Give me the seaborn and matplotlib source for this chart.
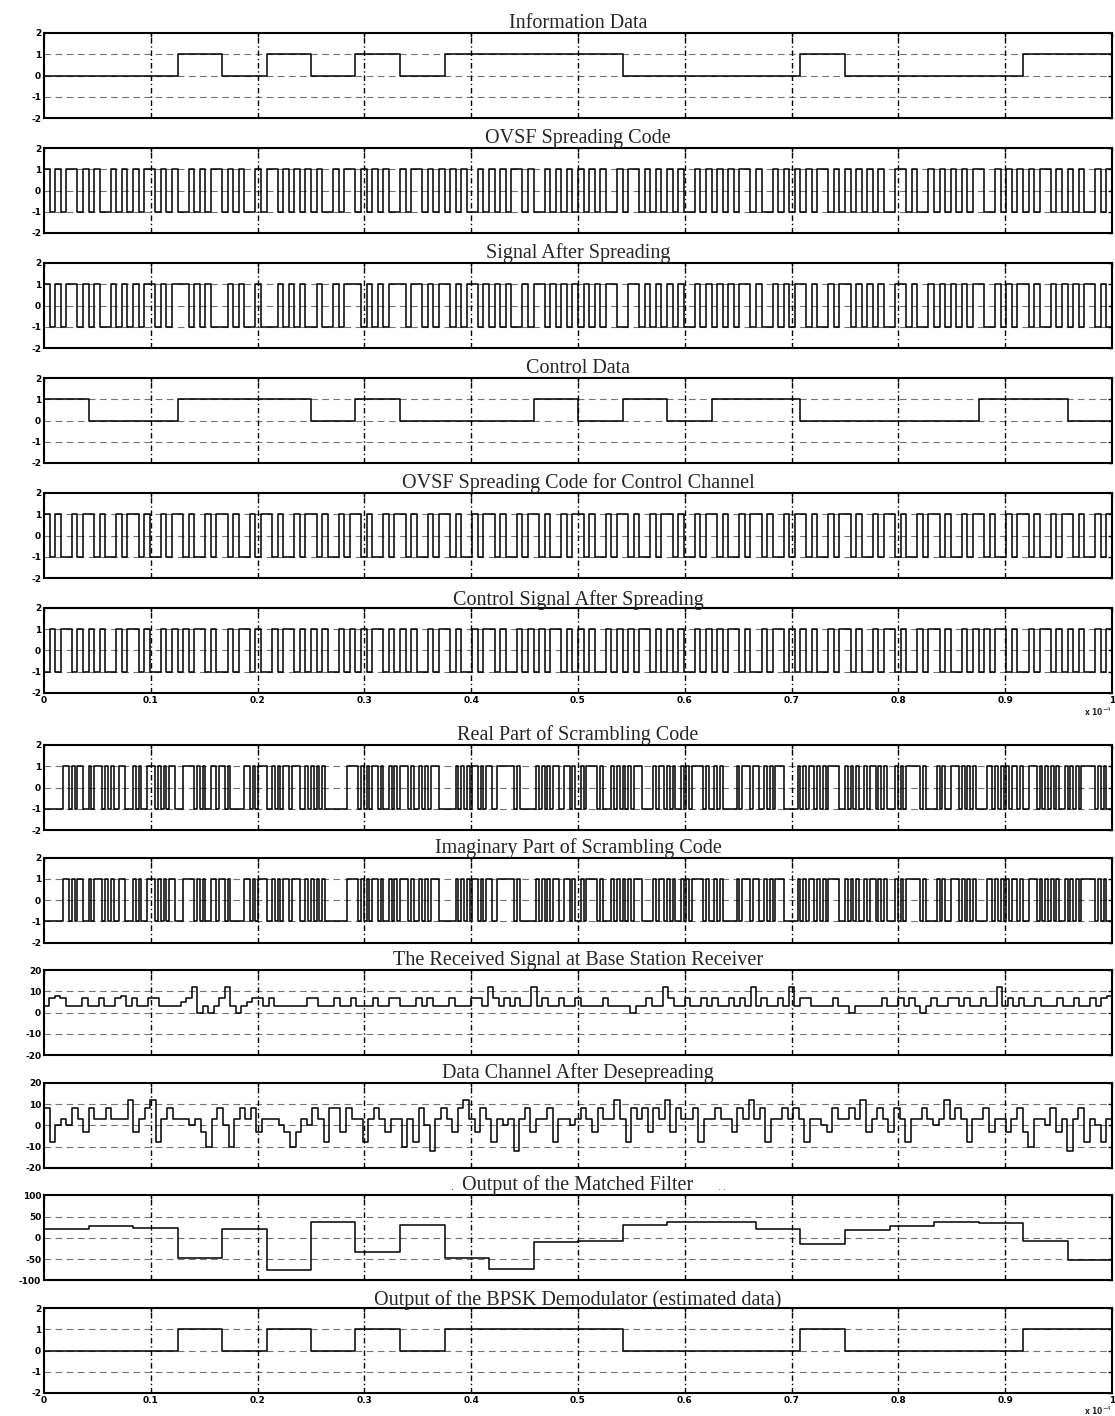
import numpy as np
import matplotlib
matplotlib.use("Agg")
import matplotlib.pyplot as plt
import seaborn as sns

# ---- data ----
info_bits = [0, 0, 0, 1, 0, 1, 0, 1, 0, 1, 1, 1, 1, 0, 0, 0, 0, 1, 0, 0, 0, 0, 1, 1]
control_bits = [1, 0, 0, 1, 1, 1, 0, 1, 0, 0, 0, 1, 0, 1, 0, 1, 1, 0, 0, 0, 0, 1, 1, 0]
estimated_bits = [0, 0, 0, 1, 0, 1, 0, 1, 0, 1, 1, 1, 1, 0, 0, 0, 0, 1, 0, 0, 0, 0, 1, 1]

ovsf_data = (
    "+-+-++-+ -+--+-+- +-++-+-+ --+-+-++ -+-+--+- ++-+-+-+ -+--+-++ -+-+-+-- "
    "+-++-+-+ -+-+--+- +-+-++-+ --+-+-+- +-+-+--+ -++-+-+- +-+--+-+ -+-+-++- "
    "+--+-+-+ -+-++-+- +-+-+-+- -++-+--+ -+-+-+-+ +--+-+-+ -+-++-+- +-+--+-+"
)
spread_data = (
    "+-+-++-+ -+--+-+- +-++-+-+ ++-+-+-- -+-+--+- --+-+-+- -+--+-++ +-+-+-++ "
    "+-++-+-+ +-+-++-+ -+-+--+- ++-+-+-+ -+-+-++- -++-+-+- +-+--+-+ -+-+-++- "
    "+--+-+-+ +-+--+-+ +-+-+-+- -++-+--+ -+-+-+-+ +--+-+-+ +-+--+-+ -+-++-+-"
)
ovsf_ctrl = (
    "+-+--+-+ +-+--+-+ +-+--+-+ +-+--+-+ +-+--+-+ +-+--+-+ +-+--+-+ +-+--+-+ "
    "+-+--+-+ +-+--+-+ +-+--+-+ +-+--+-+ +-+--+-+ +-+--+-+ +-+--+-+ +-+--+-+ "
    "+-+--+-+ +-+--+-+ +-+--+-+ +-+--+-+ +-+--+-+ +-+--+-+ +-+--+-+ +-+--+-+"
)
spread_ctrl = (
    "-+-++-+- +-+--+-+ +-+--+-+ -+-++-+- -+-++-+- -+-++-+- +-+--+-+ -+-++-+- "
    "+-+--+-+ +-+--+-+ +-+--+-+ -+-++-+- +-+--+-+ -+-++-+- +-+--+-+ -+-++-+- "
    "-+-++-+- +-+--+-+ +-+--+-+ +-+--+-+ +-+--+-+ -+-++-+- -+-++-+- +-+--+-+"
)
scr_real = (
    "-------+ +-+-++-- +-+++-+- +--++--- +-+--+++ -+-+-++- --++++-+ -+--++-+ "
    "+-+----- ++-+-+++ --+-+-++ -+++--+- +-+-+--- -----+++ +-+-+-++ -+--+-+- "
    "+++-+--+ -+-+++-- ----+-+- +-++-+-+ +--+++++ +-+----- -+-+-+-+ +--++-+- "
    "-+-++++- +---+-+- +-+-+++- ---+-++- +-+--+-+ -++++-+- -+-+---- -+-+++-+ "
    "+--+-+-+ ++-----+ -+-++-+- +-++++-- +-+-+--+ -++-+-+- --+-+-++ +++-+--- "
    "-+-+--++ +-+-+-+- ---++-+- +-+-++-+ --+++-+- +-+-+--+ -+-+-+++ ++-+-+--"
)
scr_imag = scr_real  # both parts look identical in the figure

received = [
    3, 7, 8, 7, 3, 3, 3, 7, 3, 3, 7, 3, 3, 7, 8, 3, 7, 3, 3,
    7, 7, 3, 3, 3, 3, 5, 7, 12, 0, 3, 0, 3, 7, 12, 3, 0, 3, 5, 7, 7, 3,
    7, 3, 3, 3, 3, 3, 3, 7, 7, 3, 3, 3, 7, 3, 3, 7, 3, 3, 3, 7,
    3, 3, 7, 7, 3, 3, 3, 7, 3, 7, 3, 3, 3, 7, 3, 3, 3, 7, 7,
    3, 12, 7, 3, 7, 3, 7, 3, 3, 12, 3, 7, 3, 3, 7, 3, 3, 7, 3,
    3, 3, 3, 7, 3, 3, 3, 3, 0, 3, 3, 7, 3, 3, 12, 7, 3, 3, 7, 3,
    3, 7, 3, 7, 3, 3, 7, 3, 7, 3, 12, 3, 7, 3, 3, 7, 3, 12, 3,
    7, 7, 3, 3, 3, 3, 7, 3, 3, 0, 3, 3, 3, 3, 3, 7, 3, 3, 7,
    3, 7, 3, 0, 3, 7, 3, 3, 7, 7, 3, 7, 3, 3, 7, 3, 3, 12, 3,
    7, 3, 7, 3, 3, 7, 3, 3, 3, 7, 3, 3, 7, 3, 3, 7, 3, 7, 8,
]
despread = [
    8, -8, 0, 3, 0, 8, 3, -3, 8, 3, 3, 8, 3, 3, 3, 12, -3, 3, 8, 12,
    -8, 3, 8, 3, 3, 3, 0, 3, -3, -10, 3, 8, 0, -10, 3, 8, 3, 8, -3,
    3, 3, 3, 0, -3, -10, -3, 3, 0, 8, 3, -8, 8, 8, -3, 8, 3, 3, -8,
    3, 8, 3, -3, 3, 3, -10, 3, -8, 8, 0, -12, 3, 8, 3, -3, 8, 12, 3,
    -3, 8, 3, -8, 3, 0, 3, -12, 3, 8, -3, 3, 3, 8, -8, 3, 3, 0, 3,
    8, 3, -3, 8, 3, 3, 12, 3, -8, 8, 3, 8, -3, 8, 3, 12, -3, 8, 3,
    3, 8, -8, 3, 3, 8, 3, 3, -3, 8, 3, 12, 3, 8, -8, 3, 3, 8, 3,
    8, 3, -8, 3, 3, 0, -3, 8, 3, 3, 8, 3, 12, -3, 3, 8, 3, -3, 8,
    3, -8, 3, 3, 8, 3, 0, 3, 12, 3, 8, 3, -8, 3, 3, 8, -3, 3, 3,
    -3, 3, 8, -3, -10, 3, 3, 0, 8, -3, 3, -12, 3, 8, -8, 3, 0, -8, 3,
]
matched = [20, 27, 24, -48, 20, -75, 38, -32, 30, -48, -72, -10, -8, 30,
           38, 38, 20, -15, 18, 28, 38, 35, -8, -52]

titles = [
    "Information Data", "OVSF Spreading Code", "Signal After Spreading",
    "Control Data", "OVSF Spreading Code for Control Channel",
    "Control Signal After Spreading", "Real Part of Scrambling Code",
    "Imaginary Part of Scrambling Code", "The Received Signal at Base Station Receiver",
    "Data Channel After Desepreading", "Output of the Matched Filter",
    "Output of the BPSK Demodulator (estimated data)",
]
xtick_vals = [0, 0.1, 0.2, 0.3, 0.4, 0.5, 0.6, 0.7, 0.8, 0.9, 1]
xtick_text = ["0", "0.1", "0.2", "0.3", "0.4", "0.5", "0.6", "0.7", "0.8", "0.9", "1"]


def chips(s):
    return [1 if c == "+" else -1 for c in s.replace(" ", "")]


sns.set_theme(style="white")
plt.rcParams["font.family"] = ["DejaVu Sans"]

signals = [info_bits, chips(ovsf_data), chips(spread_data), control_bits,
           chips(ovsf_ctrl), chips(spread_ctrl), chips(scr_real), chips(scr_imag),
           received, despread, matched, estimated_bits]
small = [-2, -1, 0, 1, 2]
yticks = [small] * 8 + [[-20, -10, 0, 10, 20], [-20, -10, 0, 10, 20],
                        [-100, -50, 0, 50, 100], small]

W, H = 1115, 1416
fig = plt.figure(figsize=(W / 100, H / 100), dpi=100)
left, right = 44, 1112
tops = [33 + 115 * i for i in range(6)] + [745 + 112.6 * i for i in range(6)]
height = 85

for i, (vals, yt, title) in enumerate(zip(signals, yticks, titles)):
    ax = fig.add_axes([left / W, 1 - (tops[i] + height) / H, (right - left) / W, height / H])
    vals = list(vals)
    t = np.linspace(0, 1, len(vals) + 1)
    sns.lineplot(x=t, y=vals + [vals[-1]], drawstyle="steps-post", color="black",
                 lw=1.1, estimator=None, sort=False, ax=ax)
    ax.set_xlim(0, 1)
    ax.set_ylim(yt[0], yt[-1])
    ax.set_yticks(yt)
    ax.set_yticklabels([str(v) for v in yt], fontsize=6.5, fontweight="bold")
    ax.set_xticks(xtick_vals)
    for y in yt[1:-1]:
        ax.axhline(y, color="0.45", lw=0.8, ls=(0, (6, 4)), zorder=0)
    for x in xtick_vals[1:-1]:
        ax.axvline(x, color="black", lw=1.0, ls=(0, (4, 2, 1, 2)), zorder=0)
    ax.tick_params(direction="in", length=3, width=1, top=True, right=True,
                   pad=2, colors="black")
    if i in (5, 11):
        ax.set_xticklabels(xtick_text, fontsize=6.5, fontweight="bold")
        off = 19 if i == 5 else 18
        fig.text(right / W, 1 - (tops[i] + height + off) / H, r"x 10$^{-4}$",
                 ha="right", va="center", fontsize=5.5, fontweight="bold")
    else:
        ax.set_xticklabels([])
    for sp in ax.spines.values():
        sp.set_linewidth(1.5)
        sp.set_color("black")
    ax.set_title(title, family="Liberation Serif", fontsize=14.5, pad=2)
    if i == 10:
        # small stray marks around the title in the original
        ymark = 1 - (tops[i] - 8) / H
        fig.text(452 / W, ymark, ".", fontsize=7, ha="center", va="center")
        fig.text(722 / W, ymark, ". .", fontsize=6, ha="center", va="center")

fig.savefig("out.png", dpi=100)
